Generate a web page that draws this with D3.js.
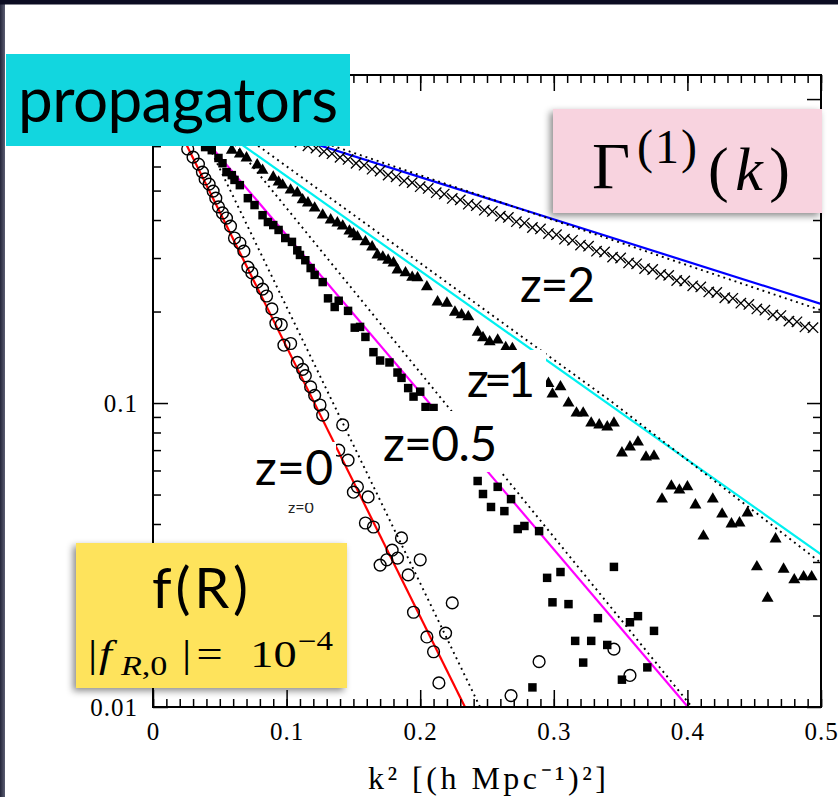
<!DOCTYPE html>
<html>
<head>
<meta charset="utf-8">
<script src="https://cdn.jsdelivr.net/npm/d3@7"></script>
<style>
  body { margin: 0; background: #fff; }
  svg { display: block; }
  .axis line { stroke: #000; stroke-width: 1.5; }
  .axis text { font-family: "Liberation Serif", serif; font-size: 25px; letter-spacing: 1px; fill: #000; }
</style>
</head>
<body>
<div id="chart"></div>
<script>
// ---- values: [k^2, Gamma] ----
const xTickLabels = ['0', '0.1', '0.2', '0.3', '0.4', '0.5'];
const xTickValues = [0, 0.1, 0.2, 0.3, 0.4, 0.5];
const yTickValues = [0.01, 0.1, 1];
const yTickLabels = ['0.01', '0.1', ''];

const circlesZ0 = [
  [0.026, 0.685], [0.030, 0.644], [0.034, 0.611], [0.037, 0.575], [0.039, 0.546], [0.042, 0.525],
  [0.045, 0.498], [0.047, 0.472], [0.049, 0.442], [0.052, 0.422], [0.055, 0.406], [0.058, 0.382],
  [0.061, 0.349], [0.065, 0.336], [0.068, 0.316], [0.071, 0.280], [0.074, 0.268], [0.078, 0.250],
  [0.082, 0.237], [0.085, 0.225], [0.089, 0.204], [0.092, 0.183], [0.096, 0.181], [0.098, 0.155],
  [0.103, 0.157], [0.108, 0.136], [0.112, 0.129], [0.114, 0.123], [0.118, 0.113], [0.121, 0.106],
  [0.125, 0.0985], [0.127, 0.0913], [0.142, 0.0847], [0.139, 0.070], [0.146, 0.0649], [0.150, 0.0509],
  [0.153, 0.053], [0.161, 0.0491], [0.159, 0.0403], [0.165, 0.0391], [0.170, 0.0293], [0.175, 0.0305],
  [0.179, 0.0328], [0.183, 0.0309], [0.186, 0.0360], [0.191, 0.0272], [0.200, 0.0305], [0.195, 0.0205],
  [0.205, 0.0170], [0.210, 0.0152], [0.219, 0.0175], [0.224, 0.0220], [0.214, 0.0120], [0.268, 0.0109],
  [0.289, 0.0141], [0.345, 0.0155], [0.357, 0.0127],
];

const squaresZ05 = [
  [0.039, 0.695], [0.044, 0.679], [0.049, 0.640], [0.052, 0.615], [0.055, 0.575], [0.059, 0.562],
  [0.061, 0.542], [0.065, 0.521], [0.071, 0.472], [0.076, 0.448], [0.082, 0.415], [0.086, 0.394],
  [0.090, 0.385], [0.094, 0.371], [0.099, 0.349], [0.104, 0.339], [0.108, 0.318], [0.110, 0.307],
  [0.114, 0.295], [0.118, 0.278], [0.121, 0.264], [0.127, 0.250], [0.131, 0.221], [0.136, 0.207],
  [0.139, 0.217], [0.146, 0.201], [0.151, 0.177], [0.155, 0.178], [0.159, 0.165], [0.165, 0.147],
  [0.170, 0.138], [0.177, 0.136], [0.183, 0.126], [0.186, 0.121], [0.191, 0.112], [0.195, 0.105],
  [0.200, 0.109], [0.204, 0.0970], [0.210, 0.0963], [0.243, 0.0554], [0.247, 0.0502], [0.258, 0.0530],
  [0.253, 0.0455], [0.263, 0.0441], [0.268, 0.0483], [0.273, 0.0385], [0.278, 0.0394], [0.289, 0.0379],
  [0.295, 0.0266], [0.299, 0.0221], [0.305, 0.0278], [0.311, 0.0218], [0.316, 0.0165], [0.322, 0.0140],
  [0.328, 0.0165], [0.333, 0.0196], [0.340, 0.0160], [0.345, 0.0289], [0.351, 0.0123], [0.357, 0.0190],
  [0.363, 0.0199], [0.370, 0.0135], [0.375, 0.0178], [0.284, 0.0116],
];

const trianglesZ1 = [
  [0.059, 0.679], [0.065, 0.659], [0.070, 0.640], [0.078, 0.607], [0.082, 0.583], [0.090, 0.553],
  [0.094, 0.533], [0.097, 0.521], [0.103, 0.502], [0.108, 0.491], [0.112, 0.466], [0.116, 0.455],
  [0.121, 0.438], [0.127, 0.415], [0.133, 0.400], [0.138, 0.391], [0.142, 0.382], [0.147, 0.368],
  [0.150, 0.360], [0.153, 0.352], [0.159, 0.339], [0.164, 0.326], [0.168, 0.307], [0.172, 0.302],
  [0.176, 0.295], [0.180, 0.289], [0.183, 0.274], [0.189, 0.268], [0.194, 0.259], [0.198, 0.258],
  [0.205, 0.241], [0.213, 0.215], [0.220, 0.213], [0.226, 0.199], [0.231, 0.195], [0.236, 0.192],
  [0.243, 0.171], [0.247, 0.164], [0.252, 0.159], [0.258, 0.161], [0.264, 0.152], [0.269, 0.151],
  [0.296, 0.116], [0.299, 0.107], [0.305, 0.113], [0.311, 0.100], [0.317, 0.0927], [0.322, 0.0927],
  [0.328, 0.0859], [0.334, 0.0847], [0.340, 0.0834], [0.345, 0.0859], [0.351, 0.0685], [0.357, 0.0717],
  [0.363, 0.0744], [0.369, 0.0664], [0.375, 0.0669], [0.381, 0.0483], [0.388, 0.0533], [0.394, 0.0517],
  [0.400, 0.0530], [0.406, 0.0462], [0.412, 0.0365], [0.419, 0.0483], [0.426, 0.0431], [0.433, 0.0400],
  [0.439, 0.0403], [0.445, 0.0435], [0.452, 0.0289], [0.460, 0.0228], [0.466, 0.0357], [0.472, 0.0284],
  [0.480, 0.0262], [0.487, 0.0268], [0.493, 0.0268],
];

const crossesZ2 = [
  [0.110, 0.722], [0.116, 0.702], [0.122, 0.690], [0.128, 0.672], [0.134, 0.661], [0.140, 0.643],
  [0.146, 0.633], [0.152, 0.615], [0.158, 0.606], [0.164, 0.588], [0.170, 0.580], [0.176, 0.562],
  [0.182, 0.555], [0.188, 0.538], [0.194, 0.531], [0.200, 0.515], [0.206, 0.508], [0.212, 0.492],
  [0.218, 0.487], [0.224, 0.471], [0.230, 0.466], [0.236, 0.451], [0.242, 0.446], [0.248, 0.431],
  [0.254, 0.427], [0.260, 0.412], [0.266, 0.408], [0.272, 0.395], [0.278, 0.391], [0.284, 0.378],
  [0.290, 0.374], [0.296, 0.361], [0.302, 0.358], [0.308, 0.346], [0.314, 0.343], [0.320, 0.331],
  [0.326, 0.328], [0.332, 0.316], [0.338, 0.314], [0.344, 0.302], [0.350, 0.300], [0.356, 0.289],
  [0.362, 0.287], [0.368, 0.277], [0.374, 0.275], [0.380, 0.265], [0.386, 0.263], [0.392, 0.253],
  [0.398, 0.252], [0.404, 0.243], [0.410, 0.241], [0.416, 0.232], [0.422, 0.231], [0.428, 0.222],
  [0.434, 0.221], [0.440, 0.213], [0.446, 0.211], [0.452, 0.204], [0.458, 0.202], [0.464, 0.195],
  [0.470, 0.194], [0.476, 0.186], [0.482, 0.185], [0.488, 0.178], [0.494, 0.177],
];

// theory curves (solid = f(R), dotted = comparison), straight on log-linear axes
const solidZ0 = [[0, 1.18], [0.2335, 0.01]];
const solidZ05 = [[0, 1.17], [0.4004, 0.01]];
const solidZ1 = [[0, 1.14], [0.5, 0.0318]];
const solidZ2 = [[0, 1.05], [0.5, 0.212]];
const dottedZ0 = [[0, 1.68], [0.2448, 0.01]];
const dottedZ05 = [[0, 1.52], [0.4034, 0.01]];
const dottedZ1 = [[0, 1.25], [0.14, 0.448], [0.342, 0.102], [0.5, 0.0298]];
const dottedZ2 = [[0, 1.11], [0.5, 0.202]];

const redshiftLabels = ['z=0', 'z=0.5', 'z=1', 'z=2'];

class PropagatorChart {
  constructor(_config) {
    this.config = {
      parentElement: _config.parentElement,
      containerWidth: 838,
      containerHeight: 797,
      margin: {
        top: 75, right: 17, bottom: 90, left: 153,
      },
    };
    this.initVis();
  }

  initVis() {
    const vis = this;

    vis.width = vis.config.containerWidth - vis.config.margin.left - vis.config.margin.right;
    vis.height = vis.config.containerHeight - vis.config.margin.top - vis.config.margin.bottom;

    vis.svg = d3.select(vis.config.parentElement).append('svg')
      .attr('width', vis.config.containerWidth)
      .attr('height', vis.config.containerHeight);

    const defs = vis.svg.append('defs');
    defs.append('clipPath').attr('id', 'plot-clip')
      .append('rect').attr('width', vis.width).attr('height', vis.height);
    // small leftover label below the z=0 patch only shows its lower part
    defs.append('clipPath').attr('id', 'stub-clip')
      .append('rect').attr('x', 100).attr('y', 428).attr('width', 120).attr('height', 30);
    const shadow = defs.append('filter').attr('id', 'shadow')
      .attr('x', '-10%').attr('y', '-10%').attr('width', '120%').attr('height', '130%');
    shadow.append('feDropShadow')
      .attr('dx', -3).attr('dy', 3).attr('stdDeviation', 3.5)
      .attr('flood-color', '#000').attr('flood-opacity', 0.45);
    const edge = defs.append('linearGradient').attr('id', 'edge');
    edge.append('stop').attr('offset', '0%').attr('stop-color', '#23253a');
    edge.append('stop').attr('offset', '100%').attr('stop-color', '#5b5d72');

    // slide frame
    vis.svg.append('rect').attr('width', 5).attr('height', vis.config.containerHeight).attr('fill', 'url(#edge)');
    vis.svg.append('rect').attr('width', vis.config.containerWidth).attr('height', 4.5).attr('fill', '#0b0c22');

    vis.chartArea = vis.svg.append('g')
      .attr('transform', `translate(${vis.config.margin.left},${vis.config.margin.top})`);

    vis.xScale = d3.scaleLinear()
      .domain([0, 0.5])
      .range([0, vis.width]);

    vis.yScale = d3.scaleLog()
      .domain([0.01, 1.2])
      .range([vis.height, 0]);

    vis.line = d3.line()
      .x((d) => vis.xScale(d[0]))
      .y((d) => vis.yScale(d[1]));

    vis.minorX = d3.range(0, 0.5001, 0.01);
    vis.minorY = [];
    [0.01, 0.1, 1].forEach((dec) => {
      d3.range(2, 10).forEach((m) => { if (dec * m <= 1.2) vis.minorY.push(dec * m); });
    });

    vis.renderVis();
  }

  renderVis() {
    const vis = this;
    const c = vis.chartArea;

    const plot = c.append('g').attr('clip-path', 'url(#plot-clip)');

    // theory lines
    const solid = [
      { pts: solidZ0, color: '#ff0000' },
      { pts: solidZ05, color: '#ff00ff' },
      { pts: solidZ1, color: '#00f0f0' },
      { pts: solidZ2, color: '#0000ff' },
    ];
    plot.selectAll('.solid')
      .data(solid)
      .join('path')
      .attr('class', 'solid')
      .attr('d', (d) => vis.line(d.pts))
      .attr('fill', 'none')
      .attr('stroke', (d) => d.color)
      .attr('stroke-width', 2.2);

    plot.selectAll('.dotted')
      .data([dottedZ0, dottedZ05, dottedZ1, dottedZ2])
      .join('path')
      .attr('class', 'dotted')
      .attr('d', (d) => vis.line(d))
      .attr('fill', 'none')
      .attr('stroke', '#000')
      .attr('stroke-width', 1.9)
      .attr('stroke-dasharray', '1.9,4');

    // simulation points
    plot.selectAll('.pt-z0')
      .data(circlesZ0)
      .join('circle')
      .attr('class', 'pt-z0')
      .attr('cx', (d) => vis.xScale(d[0]))
      .attr('cy', (d) => vis.yScale(d[1]))
      .attr('r', 5.9)
      .attr('fill', 'none')
      .attr('stroke', '#000')
      .attr('stroke-width', 1.4);

    const marks = [
      { cls: 'pt-z05', data: squaresZ05, type: d3.symbolSquare, size: 72 },
      { cls: 'pt-z1', data: trianglesZ1, type: d3.symbolTriangle, size: 62 },
    ];
    marks.forEach((m) => {
      plot.selectAll(`.${m.cls}`)
        .data(m.data)
        .join('path')
        .attr('class', m.cls)
        .attr('transform', (d) => `translate(${vis.xScale(d[0])},${vis.yScale(d[1])})`)
        .attr('d', d3.symbol().type(m.type).size(m.size))
        .attr('fill', '#000');
    });

    plot.selectAll('.pt-z2')
      .data(crossesZ2)
      .join('path')
      .attr('class', 'pt-z2')
      .attr('transform', (d) => `translate(${vis.xScale(d[0])},${vis.yScale(d[1])})`)
      .attr('d', d3.symbol().type(d3.symbolTimes).size(72))
      .attr('fill', 'none')
      .attr('stroke', '#000')
      .attr('stroke-width', 1.3);

    // axes: ticks on all four sides, pointing inwards
    const addAxis = (axis, transform, values, size, labels) => {
      const g = c.append('g').attr('class', 'axis').attr('transform', transform)
        .call(axis.tickValues(values).tickSize(size)
          .tickFormat((d, i) => (labels ? labels[i] : '')));
      g.select('.domain').remove();
      return g;
    };
    addAxis(d3.axisBottom(vis.xScale), `translate(0,${vis.height})`, vis.minorX, -8);
    addAxis(d3.axisBottom(vis.xScale).tickPadding(15), `translate(0,${vis.height})`, xTickValues, -17, xTickLabels);
    addAxis(d3.axisTop(vis.xScale), 'translate(0,0)', vis.minorX, -8);
    addAxis(d3.axisTop(vis.xScale), 'translate(0,0)', xTickValues, -16);
    addAxis(d3.axisLeft(vis.yScale), 'translate(0,0)', vis.minorY, -8);
    addAxis(d3.axisLeft(vis.yScale).tickPadding(15), 'translate(0,0)', yTickValues, -15, yTickLabels);
    addAxis(d3.axisRight(vis.yScale), `translate(${vis.width},0)`, vis.minorY, -8);
    addAxis(d3.axisRight(vis.yScale), `translate(${vis.width},0)`, yTickValues, -14);

    c.append('rect')
      .attr('width', vis.width)
      .attr('height', vis.height)
      .attr('fill', 'none')
      .attr('stroke', '#000')
      .attr('stroke-width', 2);

    c.append('text')
      .attr('x', vis.width / 2)
      .attr('y', vis.height + 82)
      .attr('text-anchor', 'middle')
      .attr('textLength', 238)
      .style('font-family', '"Liberation Serif", serif')
      .style('font-size', '32px')
      .text('k² [(h Mpc⁻¹)²]');

    // redshift labels sit on white patches, as in the slide
    const sans = 'Lato, "Open Sans", sans-serif';
    c.append('text')
      .attr('x', 135).attr('y', 438)
      .attr('clip-path', 'url(#stub-clip)')
      .style('font-family', sans).style('font-size', '16px').attr('fill', '#222')
      .text('z=0');

    const labelBoxes = [
      { box: [97, 367, 86, 57], pos: [102, 410], len: 78 },
      { box: [227, 336, 123, 61], pos: [230, 386], len: 114 },
      { box: [305, 275, 88, 61], pos: [314, 322], len: 68 },
      { box: [362, 187, 85, 50], pos: [367, 227], len: 75 },
    ];
    labelBoxes.forEach((l, i) => {
      c.append('rect')
        .attr('x', l.box[0]).attr('y', l.box[1])
        .attr('width', l.box[2]).attr('height', l.box[3])
        .attr('fill', '#fff');
      c.append('text')
        .attr('x', l.pos[0]).attr('y', l.pos[1])
        .attr('textLength', l.len)
        .style('font-family', sans).style('font-size', '48px')
        .text(redshiftLabels[i]);
    });

    // title patches
    const s = vis.svg;
    s.append('rect').attr('x', 6).attr('y', 54).attr('width', 344).attr('height', 92).attr('fill', '#12d6df');
    s.append('text').attr('x', 18).attr('y', 122).attr('textLength', 320)
      .style('font-family', sans).style('font-size', '62px')
      .text('propagators');

    s.append('rect').attr('x', 553).attr('y', 109).attr('width', 269).attr('height', 104)
      .attr('fill', '#f8d3df').attr('filter', 'url(#shadow)');
    const serif = '"Liberation Serif", "DejaVu Serif", serif';
    s.append('text').attr('x', 592).attr('y', 188)
      .style('font-family', serif).style('font-size', '66px').text('Γ');
    s.append('text').attr('x', 637).attr('y', 163).attr('textLength', 60)
      .style('font-family', serif).style('font-size', '48px').text('(1)');
    const gk = s.append('text').attr('x', 708).attr('y', 190).attr('textLength', 82)
      .style('font-family', serif).style('font-size', '62px');
    gk.append('tspan').text('(');
    gk.append('tspan').style('font-style', 'italic').text('k');
    gk.append('tspan').text(')');

    s.append('rect').attr('x', 76).attr('y', 543).attr('width', 271).attr('height', 145)
      .attr('fill', '#fee35c').attr('filter', 'url(#shadow)');
    s.append('text').attr('x', 200).attr('y', 608).attr('text-anchor', 'middle').attr('textLength', 96)
      .style('font-family', sans).style('font-size', '56px').text('f(R)');

    // |f_{R,0}| = 10^-4, set wide like the slide
    const fr = s.append('g').attr('transform', 'translate(88,667) scale(1.22,1)')
      .append('text')
      .style('font-family', serif).style('font-size', '38px');
    fr.append('tspan').attr('x', 0).attr('y', 0).text('|');
    fr.append('tspan').attr('x', 9).style('font-style', 'italic').text('f');
    fr.append('tspan').attr('x', 27).attr('y', 8).style('font-size', '28px')
      .style('font-style', 'italic').text('R');
    fr.append('tspan').attr('y', 8).style('font-size', '28px').text(',0');
    fr.append('tspan').attr('x', 77).attr('y', 0).text('|');
    fr.append('tspan').attr('x', 89).text('=');
    fr.append('tspan').attr('x', 133).text('10');
    fr.append('tspan').attr('x', 172).attr('y', -17).style('font-size', '27px').text('−4');
  }
}

const chart = new PropagatorChart({ parentElement: '#chart' });
</script>
</body>
</html>
